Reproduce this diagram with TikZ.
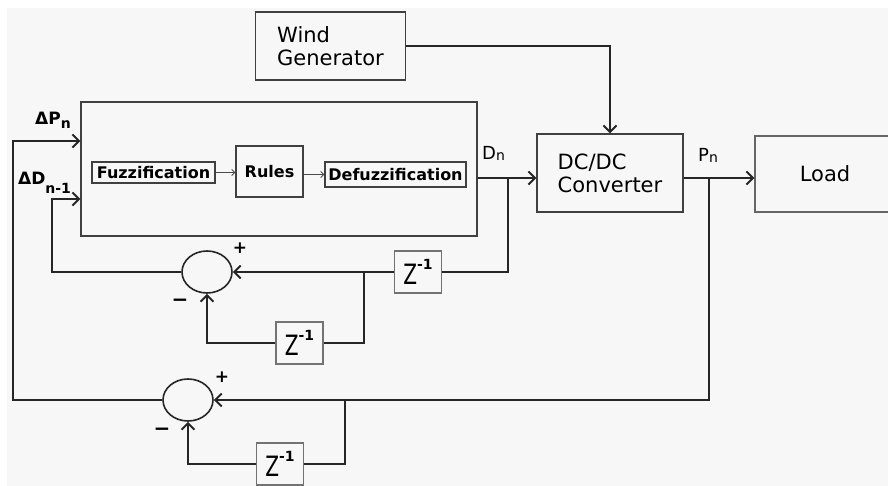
\documentclass[tikz,border=0pt]{standalone}
\usepackage{fontspec}
\setmainfont{DejaVu Sans}
\usetikzlibrary{arrows.meta,shapes.geometric}

\newcommand{\zinv}{\scalebox{0.72}[1]{\fontsize{28}{28}\selectfont Z}\raisebox{15pt}{\fontsize{14}{14}\selectfont\bfseries -1}}
\newcommand{\sub}[2][4pt]{\raisebox{-#1}{\fontsize{14}{14}\selectfont #2}}

\begin{document}
\begin{tikzpicture}[x=1pt, y=-1pt,
  box/.style={draw=black!75, line width=1.3pt, inner sep=0pt, minimum width=#1},
  sumnode/.style={draw=black!85, ellipse, line width=1.6pt, minimum width=50, minimum height=42, inner sep=0pt},
  zbox/.style={draw=black!55, line width=1.3pt, minimum width=47, minimum height=42, inner sep=0pt},
  wire/.style={line width=2pt, black!85},
  arr/.style={wire, -{Straight Barb[length=6.5pt,width=13pt]}},
  thinarr/.style={line width=0.9pt, black!70, -{Straight Barb[length=3pt,width=6pt]}},
  big/.style={font=\fontsize{21}{23}\selectfont, align=left},
  small/.style={font=\fontsize{16}{18}\selectfont\bfseries},
  lbl/.style={font=\fontsize{17}{20}\selectfont\bfseries, inner sep=0pt}]
\clip (0,0) rectangle (888,486);
\fill[white] (0,0) rectangle (888,486);
\fill[black!3] (7,8) rectangle (888,486);
% blocks
\node[box=150, minimum height=68, big] (wg) at (330.5,46) {Wind\\Generator};
\node[box=396, minimum height=134] (fuzzy) at (279,169) {};
\node[box=123, minimum height=21, small] (fuzz) at (153.5,172.5) {Fuzzification};
\node[box=67, minimum height=51, small] (rules) at (269.5,171.5) {Rules};
\node[box=141, minimum height=25, small] (defuzz) at (395.5,174.5) {Defuzzification};
\node[box=146, minimum height=78, big] (dcdc) at (610,173) {DC/DC\\Converter};
\node[box=140, minimum height=76, big, draw=black!60] (load) at (825,174) {Load};
\node[sumnode] (sum1) at (207,272) {};
\node[sumnode] (sum2) at (188,400) {};
\node[zbox] (zA) at (418,272) {\zinv};
\node[zbox] (zB) at (299.5,343) {\zinv};
\node[zbox] (zC) at (280,464) {\zinv};
% labels
\node[lbl, anchor=base west] (dp) at (35,125) {ΔP\sub{n}};
\node[lbl, anchor=base west] (dd) at (18,185) {ΔD\sub[9pt]{n-1}};
\node[lbl, anchor=base west, font=\fontsize{18}{20}\selectfont] (dn) at (482,160) {D\sub[1pt]{n}};
\node[lbl, anchor=base west, font=\fontsize{18}{20}\selectfont] (pn) at (698,162) {P\sub[1pt]{n}};
\node[lbl] (p1) at (240,248) {+};
\node[lbl, font=\fontsize{20}{20}\selectfont\bfseries] (m1) at (180,303) {−};
\node[lbl] (p2) at (222,377) {+};
\node[lbl, font=\fontsize{20}{20}\selectfont\bfseries] (m2) at (162,432) {−};
% junctions
\coordinate (jd) at (508,178);
\coordinate (jp) at (709,178);
\coordinate (b1) at (364,272);
\coordinate (b2) at (345,400);
\coordinate (k1) at (13,141);
\coordinate (k2) at (52,199);
% connectors
\draw[arr] (wg.east) -| (dcdc.north);
\draw[arr] (fuzzy.east |- jd) -- (dcdc.west |- jd);
\draw[arr] (dcdc.east |- jp) -- (load.west |- jp);
\draw[thinarr] (fuzz.east) -- (rules.west |- fuzz.east);
\draw[thinarr] (rules.east |- defuzz) -- (defuzz.west);
\draw[wire] (jd) |- (zA.east);
\draw[arr] (zA.west) -- (sum1.east);
\draw[wire] (b1) |- (zB.east);
\draw[arr] (zB.west) -| (sum1.south);
\draw[arr] (sum1.west) -| (k2) -- (fuzzy.west |- k2);
\draw[arr] (jp) |- (sum2.east);
\draw[wire] (b2) |- (zC.east);
\draw[arr] (zC.west) -| (sum2.south);
\draw[arr] (sum2.west) -| (k1) -- (fuzzy.west |- k1);
\end{tikzpicture}
\end{document}
